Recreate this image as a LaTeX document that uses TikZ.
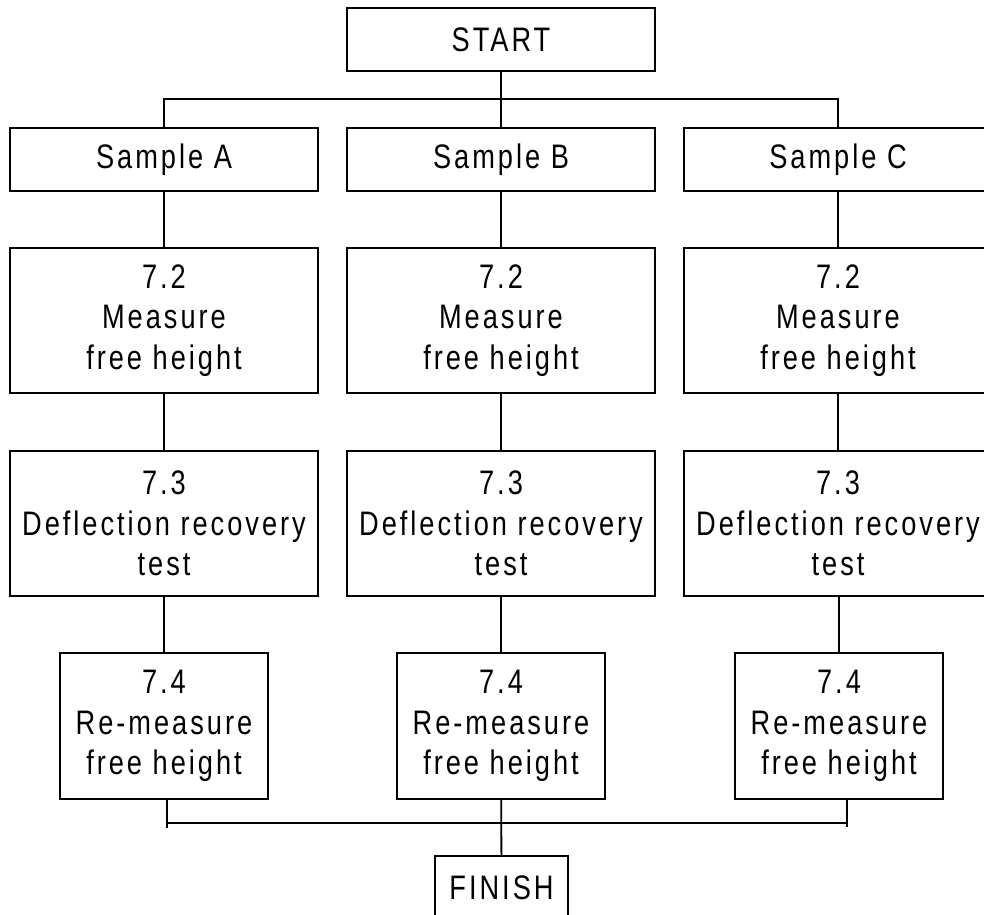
\documentclass[tikz,border=0pt]{standalone}
\usepackage{fontspec}
\setmainfont{Liberation Sans}[FakeStretch=0.8, LetterSpace=8.8]
\begin{document}
\begin{tikzpicture}[x=1pt,y=-1pt, line width=1.8pt,
  box/.style={draw, rectangle, inner sep=0pt, align=center, font=\fontsize{34}{40.5}\selectfont},
  wbox/.style={box, minimum width=308pt},
  sbox/.style={wbox, minimum height=63pt},
  tbox/.style={wbox, minimum height=145pt},
  nbox/.style={box, minimum width=208pt, minimum height=146pt}]
\useasboundingbox (0,0) rectangle (984,914);
\clip (0,0) rectangle (984,914);
% top
\node[sbox] (start) at (501,39.5) {START};
\node[sbox] (sa) at (164,159.5) {Sample A};
\node[sbox] (sb) at (501,159.5) {Sample B};
\node[sbox] (sc) at (838,159.5) {Sample C};
% 7.2
\node[tbox] (a72) at (164,320.5) {7.2\\Measure\\free height};
\node[tbox] (b72) at (501,320.5) {7.2\\Measure\\free height};
\node[tbox] (c72) at (838,320.5) {7.2\\Measure\\free height};
% 7.3
\node[tbox] (a73) at (164,523.5) {7.3\\Deflection recovery\\test};
\node[tbox] (b73) at (501,523.5) {7.3\\Deflection recovery\\test};
\node[tbox] (c73) at (838,523.5) {7.3\\Deflection recovery\\test};
% 7.4
\node[nbox] (a74) at (164,726) {7.4\\Re-measure\\free height};
\node[nbox] (b74) at (501,726) {7.4\\Re-measure\\free height};
\node[nbox] (c74) at (839,726) {7.4\\Re-measure\\free height};
% finish
\node[box, minimum width=133pt, minimum height=63pt] (fin) at (501.5,887.5) {FINISH};
% connectors top
\coordinate (tl) at (164,99);
\coordinate (tr) at (838,99);
\draw (start) -- (sb);
\draw (sa.north) -- (tl) -- (tr) -- (sc.north);
\draw (sa) -- (a72);
\draw (sb) -- (b72);
\draw (sc) -- (c72);
\draw (a72) -- (a73);
\draw (b72) -- (b73);
\draw (c72) -- (c73);
\draw (a73) -- (a74);
\draw (b73) -- (b74);
\draw (c73.south -| c74) -- (c74);
% connectors bottom
\coordinate (bl) at (167,823);
\coordinate (br) at (847,823);
\draw (a74.south -| bl) -- ([yshift=-5pt]bl);
\draw (c74.south -| br) -- ([yshift=-4pt]br);
\draw (bl) -- (br);
\draw (b74) -- (fin);
\end{tikzpicture}
\end{document}
